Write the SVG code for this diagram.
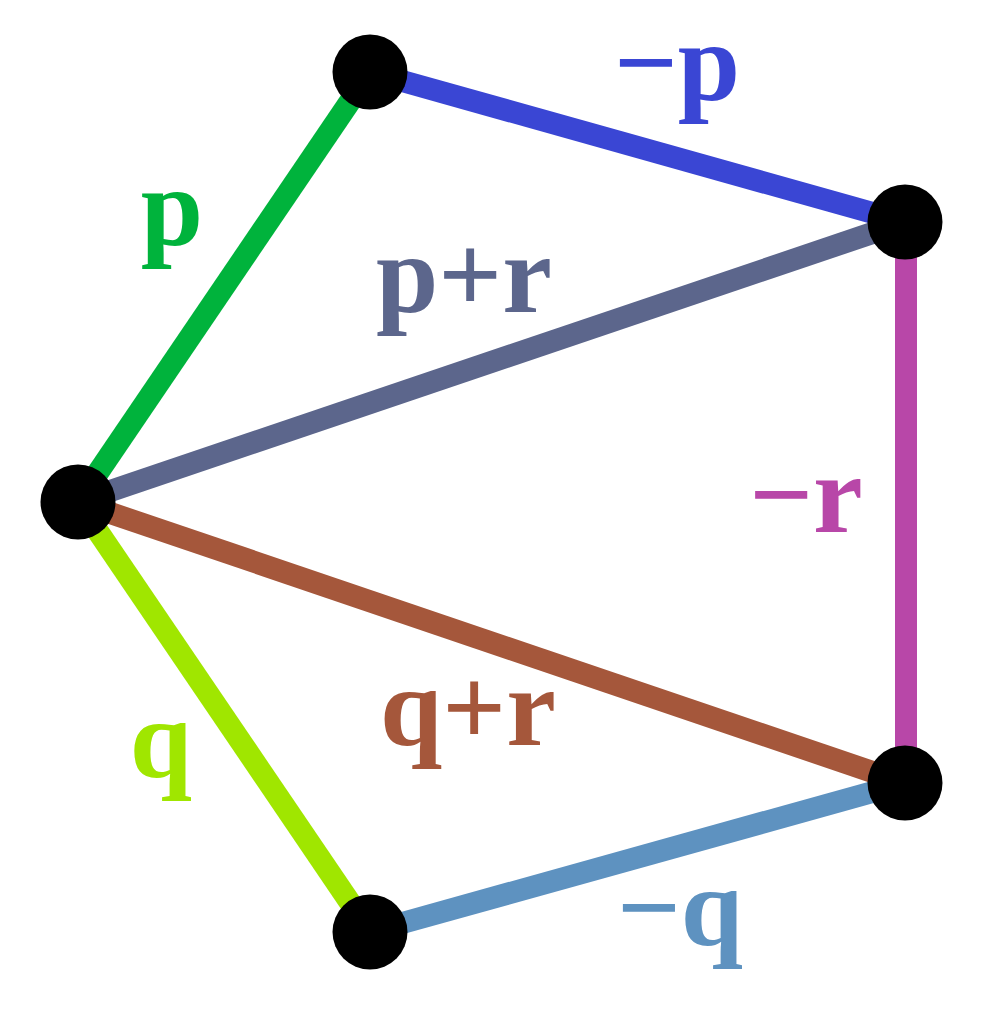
<svg xmlns="http://www.w3.org/2000/svg" width="987" height="1026" viewBox="0 0 987 1026">
<style>
.e{stroke-width:22;fill:none;stroke-linecap:butt}
.n{fill:#000}
.t{font-family:"Liberation Serif","Times New Roman",serif;font-weight:bold;font-size:112px;text-anchor:middle}
</style>
<rect width="987" height="1026" fill="#fff"/>
<g id="connectors">
<line class="e" x1="78" y1="502" x2="370" y2="72" stroke="#00b33c"/>
<line class="e" x1="370" y1="72" x2="905" y2="222" stroke="#3a46d4"/>
<line class="e" x1="78" y1="502" x2="905" y2="222" stroke="#5c668c"/>
<line class="e" x1="906" y1="222" x2="906" y2="783" stroke="#b847a8"/>
<line class="e" x1="78" y1="502" x2="905" y2="783" stroke="#a5573b"/>
<line class="e" x1="78" y1="502" x2="370" y2="932" stroke="#a0e600"/>
<line class="e" x1="370" y1="932" x2="905" y2="783" stroke="#5e92c0"/>
</g>
<g id="labels">
<text class="t" x="172" y="245" fill="#00b33c">p</text>
<text class="t" x="677" y="100" fill="#3a46d4">−p</text>
<text class="t" x="464" y="312" fill="#5c668c">p+r</text>
<text class="t" x="806" y="532" fill="#b847a8">−r</text>
<text class="t" x="468" y="745" fill="#a5573b">q+r</text>
<text class="t" x="161" y="777" fill="#a0e600">q</text>
<text class="t" x="680" y="945" fill="#5e92c0">−q</text>
</g>
<g id="node-top"><circle class="n" cx="370" cy="72" r="37.5"/></g>
<g id="node-right-top"><circle class="n" cx="905" cy="222" r="37.5"/></g>
<g id="node-left"><circle class="n" cx="78" cy="502" r="37.5"/></g>
<g id="node-right-bottom"><circle class="n" cx="905" cy="783" r="37.5"/></g>
<g id="node-bottom"><circle class="n" cx="370" cy="932" r="37.5"/></g>
</svg>
